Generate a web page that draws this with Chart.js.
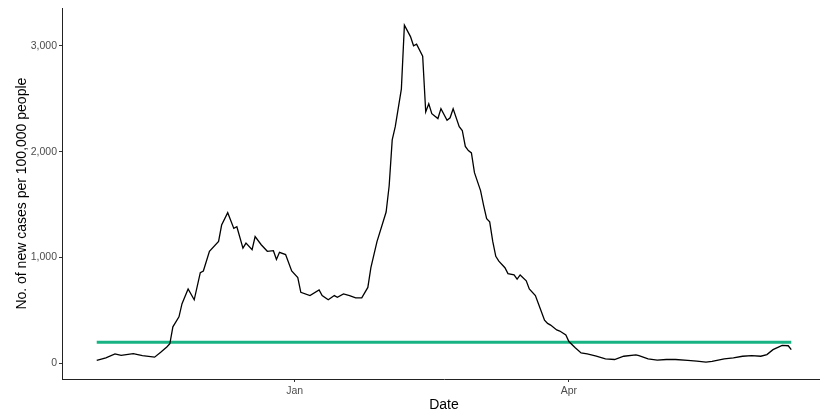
<!DOCTYPE html>
<html>
<head>
<meta charset="utf-8">
<script src="https://cdn.jsdelivr.net/npm/chart.js@4/dist/chart.umd.min.js"></script>
<style>
    html, body { margin: 0; padding: 0; background: #fff; overflow: hidden; }
    #chart { display: block; }
</style>
</head>
<body>
<canvas id="chart" width="830" height="417"></canvas>
<script>
'use strict';

// days counted from 1 Jan
const days = [-65, -62, -59, -57, -53, -50, -46, -44, -42, -41, -40, -38, -37, -35, -33, -31, -30, -28, -25, -24,
    -22, -20, -19, -17, -16, -14, -13, -11, -9, -7, -6, -5, -3, -1, 1, 2, 5, 8, 9, 11,
    13, 14, 16, 18, 20, 22, 24, 25, 27, 30, 31, 32, 33, 35, 36, 38, 39, 40, 42, 43,
    44, 45, 47, 48, 50, 51, 52, 54, 55, 56, 57, 58, 59, 61, 62, 63, 64, 65, 66, 67,
    69, 70, 72, 73, 74, 76, 77, 79, 80, 82, 83, 84, 86, 87, 89, 90, 92, 94, 96, 99,
    102, 105, 108, 112, 113, 116, 119, 122, 125, 129, 132, 135, 137, 141, 144, 147, 150, 153, 155, 157,
    160, 162, 163];

const cases = [28, 53, 90, 77, 93, 74, 59, 105, 155, 186, 346, 440, 564, 703, 601, 857, 873, 1059, 1152, 1307,
    1424, 1275, 1291, 1089, 1136, 1074, 1198, 1121, 1059, 1065, 982, 1049, 1028, 873, 811, 672, 641, 694, 641, 601,
    641, 625, 657, 641, 619, 619, 718, 904, 1150, 1430, 1678, 2111, 2236, 2591, 3195, 3087, 3000, 3015, 2901, 2375,
    2452, 2359, 2313, 2406, 2297, 2320, 2406, 2236, 2200, 2050, 2010, 1988, 1802, 1632, 1493, 1368, 1337, 1152, 1012, 966,
    904, 848, 836, 796, 836, 780, 703, 641, 564, 409, 378, 362, 316, 306, 269, 207, 150, 99, 90, 68,
    44, 37, 68, 81, 74, 44, 31, 37, 37, 28, 21, 12, 19, 44, 53, 68, 74, 68, 84, 130,
    170, 167, 130];

// threshold line
const thresholdDays = [-65, 163];
const thresholdValues = [200, 200];

// axis ticks
const xTickDays = [0, 90];
const xTickLabels = ['Jan', 'Apr'];
const yTickValues = [0, 1000, 2000, 3000];

(() => {
    const font = 'Liberation Sans, Arial, sans-serif';

    new Chart(document.querySelector('canvas#chart'), {
        type: 'line',
        data: {
            datasets: [{
                data: days.map((d, i) => ({ x: d, y: cases[i] })),
                borderColor: '#000000',
                borderWidth: 1.3,
                pointRadius: 0,
                tension: 0
            }, {
                data: thresholdDays.map((d, i) => ({ x: d, y: thresholdValues[i] })),
                borderColor: '#17b382',
                borderWidth: 3,
                pointRadius: 0
            }]
        },
        options: {
            responsive: false,
            animation: false,
            layout: {
                padding: { top: 3, right: 4, left: 0, bottom: 0 }
            },
            plugins: {
                legend: { display: false },
                tooltip: { enabled: false }
            },
            scales: {
                x: {
                    type: 'linear',
                    min: -76.4,
                    max: 174.4,
                    afterBuildTicks: (scale) => {
                        scale.ticks = xTickDays.map((v) => ({ value: v }));
                    },
                    afterFit: (scale) => {
                        scale.height = 38;
                    },
                    ticks: {
                        color: '#4d4d4d',
                        font: { family: font, size: 10.5 },
                        padding: 3,
                        maxRotation: 0,
                        callback: (value) => xTickLabels[xTickDays.indexOf(value)]
                    },
                    grid: {
                        drawOnChartArea: false,
                        tickLength: 3,
                        color: '#333333'
                    },
                    border: { color: '#222222', width: 1 },
                    title: {
                        display: true,
                        text: 'Date',
                        color: '#000000',
                        font: { family: font, size: 14 },
                        padding: { top: 0, bottom: 3.6 }
                    }
                },
                y: {
                    min: -147,
                    max: 3354,
                    afterBuildTicks: (scale) => {
                        scale.ticks = yTickValues.map((v) => ({ value: v }));
                    },
                    afterFit: (scale) => {
                        scale.width = 62;
                    },
                    ticks: {
                        color: '#4d4d4d',
                        font: { family: font, size: 10.5 },
                        padding: 2,
                        callback: (value) => value.toLocaleString('en-US')
                    },
                    grid: {
                        drawOnChartArea: false,
                        tickLength: 3,
                        color: '#333333'
                    },
                    border: { color: '#222222', width: 1 },
                    title: {
                        display: true,
                        text: 'No. of new cases per 100,000 people',
                        color: '#000000',
                        font: { family: font, size: 14 },
                        padding: { top: 13.5, bottom: 0 }
                    }
                }
            }
        }
    });
})();
</script>
</body>
</html>
